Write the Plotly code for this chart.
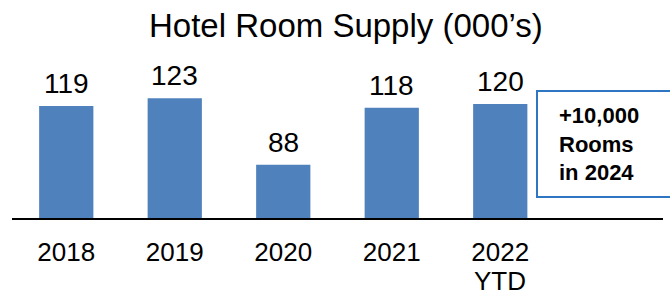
import plotly.graph_objects as go

categories = ["2018", "2019", "2020", "2021", "2022<br>YTD"]
supply = [119, 123, 88, 118, 120]
labels = ["119", "123", "88", "118", "120"]
title_text = "Hotel Room Supply (000’s)"
box_text = "+10,000<br>Rooms<br>in 2024"

BAR = "#4F81BD"
FONT = "Arial, Liberation Sans, sans-serif"

W, H = 670, 293
ML, MR, MT, MB = 12, 7, 0, 75
PW = W - ML - MR
PH = H - MT - MB

def px_x(p):
    return (p - ML) / PW

def px_y(p):
    return (H - MB - p) / PH

# first line of each category goes on the axis; any second line is placed beneath it
first_lines = [c.split("<br>")[0] for c in categories]
second_lines = [c.split("<br>")[1] if "<br>" in c else "" for c in categories]

fig = go.Figure()
fig.add_trace(go.Bar(
    x=list(range(len(categories))), y=supply,
    marker=dict(color=BAR, line=dict(width=0)),
    width=0.5, hoverinfo="skip",
))

for i, (v, t) in enumerate(zip(supply, labels)):
    fig.add_annotation(x=i, y=v, xref="x", yref="y", text=t, showarrow=False,
                       yanchor="bottom", yshift=5,
                       font=dict(family=FONT, size=28, color="#000000"))

for i, s in enumerate(second_lines):
    if s:
        fig.add_annotation(x=i, y=px_y(293), xref="x", yref="paper", text=s, showarrow=False,
                           yanchor="bottom", yshift=-5,
                           font=dict(family=FONT, size=26, color="#000000"))

fig.add_annotation(x=px_x(346), y=px_y(26), xref="paper", yref="paper",
                   text=title_text, showarrow=False, xanchor="center", yanchor="middle",
                   font=dict(family=FONT, size=33, color="#000000"))

fig.add_shape(type="rect", xref="paper", yref="paper",
              x0=px_x(537), x1=px_x(690), y0=px_y(197), y1=px_y(91),
              line=dict(color="#2F76C2", width=2), fillcolor="white", layer="above")

fig.add_annotation(x=px_x(557), y=px_y(144), xref="paper", yref="paper",
                   text="<b>" + box_text + "</b>", showarrow=False,
                   xanchor="left", yanchor="middle", align="left",
                   font=dict(family=FONT, size=22, color="#000000"))

fig.update_layout(
    width=W, height=H,
    margin=dict(l=ML, r=MR, t=MT, b=MB, pad=0, autoexpand=False),
    plot_bgcolor="white", paper_bgcolor="white",
    showlegend=False,
    xaxis=dict(range=[-0.5, 5.5], showgrid=False, zeroline=False,
               tickmode="array", tickvals=list(range(len(categories))), ticktext=first_lines,
               showline=True, linecolor="#000000", linewidth=2,
               ticks="outside", ticklen=10, tickcolor="rgba(0,0,0,0)",
               tickfont=dict(family=FONT, size=26, color="#000000"),
               automargin=False, fixedrange=True),
    yaxis=dict(range=[60, 60 + PH / 1.9], visible=False, fixedrange=True, automargin=False),
)

fig.write_html("out.html", config={"displayModeBar": False},
               post_script="document.body.style.margin='0';document.body.style.padding='0';document.body.style.overflow='hidden';")
